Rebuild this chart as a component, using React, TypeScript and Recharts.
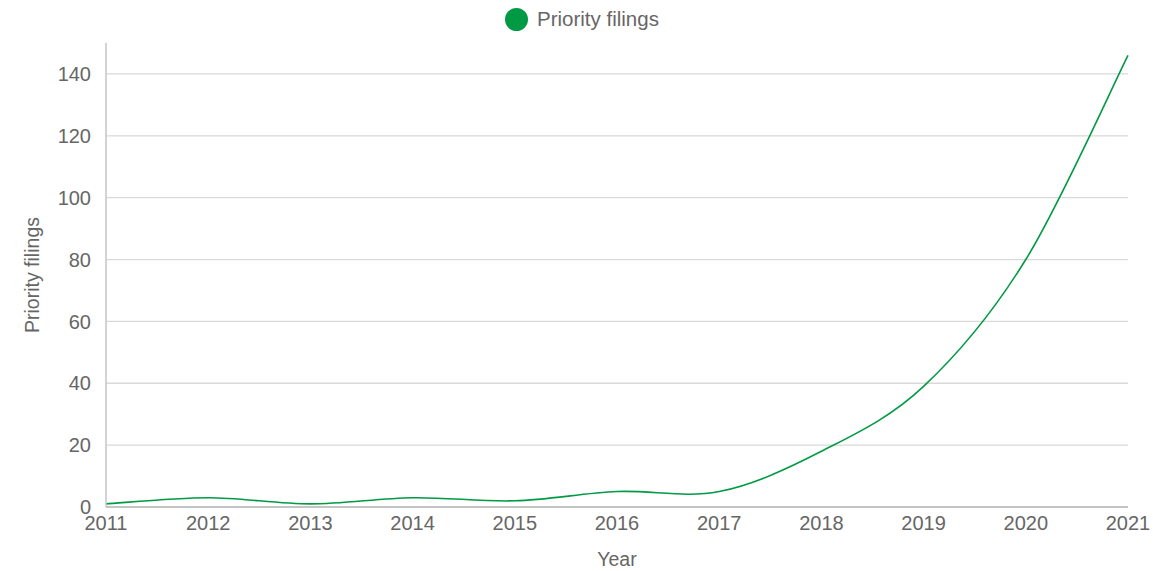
import { LineChart, Line, XAxis, YAxis, CartesianGrid } from "recharts";

const years = ["2011", "2012", "2013", "2014", "2015", "2016", "2017", "2018", "2019", "2020", "2021"];
const filings = [1, 3, 1, 3, 2, 5, 5, 18, 39, 80, 146];
const yTicks = [0, 20, 40, 60, 80, 100, 120, 140];

const data = years.map((year, i) => ({ year, filings: filings[i] }));

const GREEN = "#009a44";
const TEXT = "#666666";
const FONT = "Arial, 'Liberation Sans', sans-serif";

// catmull-rom style curve (the reference overshoots between equal points)
function cardinalCurve(context: any) {
  let pts: [number, number][] = [];
  return {
    areaStart() {},
    areaEnd() {},
    lineStart() {
      pts = [];
    },
    point(x: number, y: number) {
      pts.push([+x, +y]);
    },
    lineEnd() {
      const n = pts.length;
      if (!n) return;
      context.moveTo(pts[0][0], pts[0][1]);
      for (let i = 0; i < n - 1; i++) {
        const p0 = pts[Math.max(i - 1, 0)];
        const p1 = pts[i];
        const p2 = pts[i + 1];
        const p3 = pts[Math.min(i + 2, n - 1)];
        context.bezierCurveTo(
          p1[0] + (p2[0] - p0[0]) / 6,
          p1[1] + (p2[1] - p0[1]) / 6,
          p2[0] - (p3[0] - p1[0]) / 6,
          p2[1] - (p3[1] - p1[1]) / 6,
          p2[0],
          p2[1]
        );
      }
    },
  };
}

export default function App() {
  return (
    <div style={{ position: "absolute", left: 0, top: 0, width: 1153, height: 571, background: "#fff", fontFamily: FONT }}>
      <div
        style={{
          position: "absolute",
          top: 7,
          left: 505,
          display: "flex",
          alignItems: "center",
        }}
      >
        <span style={{ width: 23, height: 23, borderRadius: 12, background: GREEN, display: "inline-block", marginRight: 9 }} />
        <span style={{ fontSize: 20.5, color: TEXT }}>Priority filings</span>
      </div>
      <LineChart width={1153} height={571} data={data} margin={{ top: 43, right: 25, left: 20, bottom: 0 }}>
        <CartesianGrid vertical={false} horizontalValues={yTicks} stroke="#d9d9d9" strokeWidth={1.3} />
        <XAxis
          dataKey="year"
          height={64}
          tickLine={false}
          axisLine={{ stroke: "#c4c4c4", strokeWidth: 2 }}
          tick={{ fontSize: 20, fill: TEXT, fontFamily: FONT }}
          interval={0}
          tickMargin={3}
          padding={{ left: 0, right: 0 }}
          label={{ value: "Year", position: "insideBottom", offset: 5, style: { fontSize: 19.5, fill: TEXT, fontFamily: FONT } }}
        />
        <YAxis
          width={86}
          domain={[0, 150]}
          ticks={yTicks}
          tickLine={false}
          tickSize={0}
          tickMargin={15}
          axisLine={{ stroke: "#c4c4c4", strokeWidth: 1.5 }}
          tick={{ fontSize: 20, fill: TEXT, fontFamily: FONT }}
          label={{
            value: "Priority filings",
            angle: -90,
            position: "insideLeft",
            offset: 12,
            style: { fontSize: 19.5, fill: TEXT, fontFamily: FONT, textAnchor: "middle" },
          }}
        />
        <Line
          dataKey="filings"
          type={cardinalCurve as any}
          stroke={GREEN}
          strokeWidth={1.6}
          dot={false}
          activeDot={false}
          isAnimationActive={false}
        />
      </LineChart>
    </div>
  );
}
